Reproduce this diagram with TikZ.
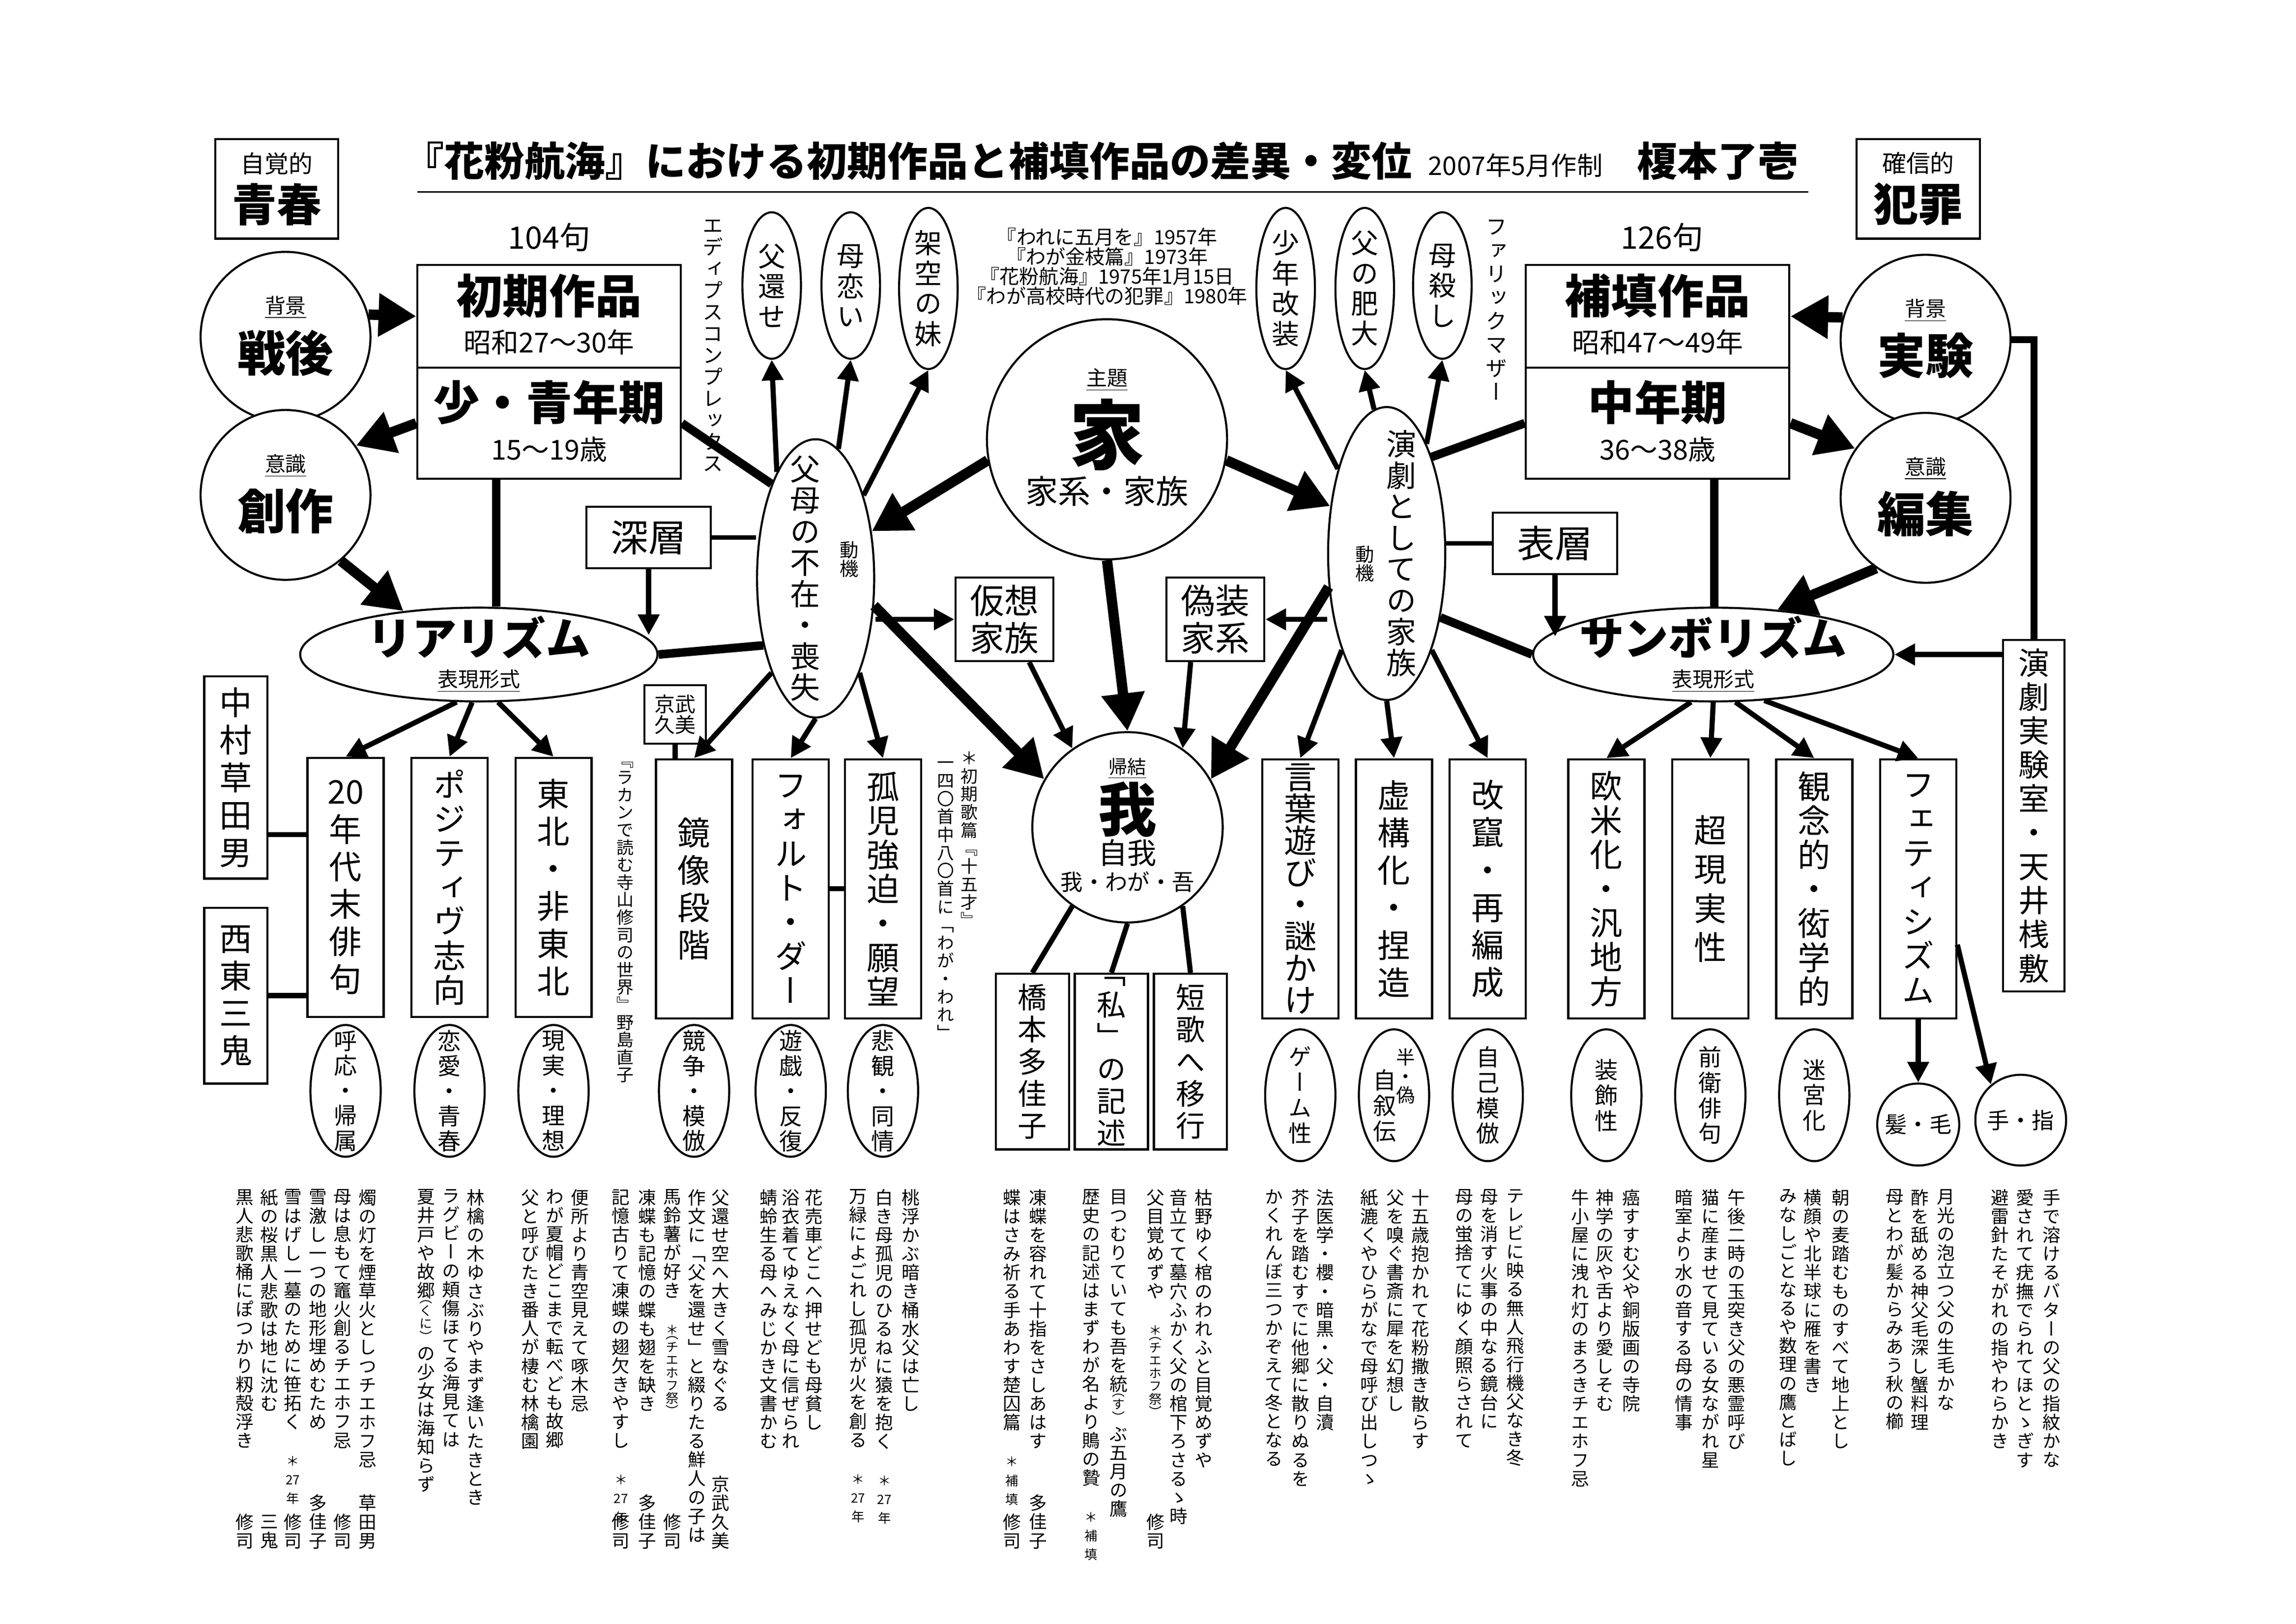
\documentclass[tikz,border=0pt]{standalone}
\usepackage{fontspec}
\setmainfont{Noto Sans CJK JP}
\newfontfamily\tf[RawFeature=+vert]{Noto Sans CJK JP}
\usetikzlibrary{shapes.geometric,arrows.meta}

\makeatletter
\def\tate@stop{\tate@end}
\def\tate@loop#1{\def\tate@tmp{#1}\ifx\tate@tmp\tate@stop\else\hbox to 1em{\hss#1\hss}\expandafter\tate@loop\fi}
\newcommand\tate[2][1.15]{\vbox{\tf\baselineskip=#1em\lineskiplimit=0pt\lineskip=1pt\tate@loop#2\tate@end}}
\makeatother
\newcommand\zbox[1]{\hbox to 0pt{\hss\vbox to 0pt{\vss\hbox{#1}\vss}\hss}}
\newcommand\sz{\fontsize{7.5}{8}\selectfont}
\newcommand\fs[1]{\fontsize{#1}{#1}\selectfont}

\begin{document}
\begin{tikzpicture}[x=0.03cm,y=-0.03cm,
  box/.style={draw,line width=1.2pt,fill=white,inner sep=0pt,align=center},
  tbox/.style={box,minimum width=1.56cm,minimum height=5.31cm,font=\fs{19}},
  oval/.style={ellipse,draw,line width=1.2pt,fill=white,inner sep=0pt,minimum width=1.44cm,minimum height=2.7cm,font=\fs{13.5}},
  topoval/.style={oval,minimum width=1.2cm,minimum height=3.0cm,font=\fs{16}},
  circ/.style={circle,draw,line width=1.2pt,fill=white,inner sep=0pt,minimum size=3.48cm},
  ku/.style={inner sep=0pt,font=\fs{10.5}},
  heavy/.style={line width=6pt,-{Triangle[length=22pt,width=24pt]}},
  mid/.style={line width=3pt,-{Triangle[length=12pt,width=12pt]}},
  bar/.style={line width=5pt},
  lbar/.style={line width=2.5pt}]
\useasboundingbox (0,0) rectangle (1568,1109);

% title
\node[font=\fs{23.5}\bfseries] (title) at (620,110) {『花粉航海』における初期作品と補填作品の差異・変位};
\node[font=\fs{15}] (date) at (1035,113) {2007年5月作制};
\node[font=\fs{23.5}\bfseries] (name) at (1173,110) {榎本了壱};
\draw[line width=1pt] (285,131) -- (1235,131);

\node[box,minimum width=2.52cm,minimum height=2.04cm] (seishun) at (189,129) {{\fs{14}自覚的}\\[4pt]{\fs{26}\bfseries 青春}};
\node[box,minimum width=2.52cm,minimum height=2.04cm] (hanzai) at (1310,129) {{\fs{14}確信的}\\[4pt]{\fs{26}\bfseries 犯罪}};
\node[font=\fs{18}] (ku104) at (375,162) {104句};
\node[font=\fs{18}] (ku126) at (1135,162) {126句};

% boxes
\node[box,minimum width=5.4cm,minimum height=2.1cm] (shoki) at (375,216) {\zbox{\begin{tabular}{@{}c@{}}{\fs{27}\bfseries 初期作品}\\[6pt]{\fs{16}昭和27〜30年}\end{tabular}}};
\node[box,minimum width=5.4cm,minimum height=2.28cm] (shonen) at (375,289) {\zbox{\begin{tabular}{@{}c@{}}{\fs{27}\bfseries 少・青年期}\\[6pt]{\fs{16}15〜19歳}\end{tabular}}};
\node[box,minimum width=5.4cm,minimum height=2.1cm] (hoten) at (1132,216) {\zbox{\begin{tabular}{@{}c@{}}{\fs{27}\bfseries 補填作品}\\[6pt]{\fs{16}昭和47〜49年}\end{tabular}}};
\node[box,minimum width=5.4cm,minimum height=2.28cm] (chunen) at (1132,289) {\zbox{\begin{tabular}{@{}c@{}}{\fs{27}\bfseries 中年期}\\[6pt]{\fs{16}36〜38歳}\end{tabular}}};

% circles
\node[circ] (sengo) at (195,230) {\zbox{\begin{tabular}{@{}c@{}}{\fs{12}\underline{背景}}\\[6pt]{\fs{28}\bfseries 戦後}\end{tabular}}};
\node[circ] (sosaku) at (195,338) {\zbox{\begin{tabular}{@{}c@{}}{\fs{12}\underline{意識}}\\[6pt]{\fs{28}\bfseries 創作}\end{tabular}}};
\node[circ] (jikken) at (1315,232) {\zbox{\begin{tabular}{@{}c@{}}{\fs{12}\underline{背景}}\\[6pt]{\fs{28}\bfseries 実験}\end{tabular}}};
\node[circ] (henshu) at (1315,340) {\zbox{\begin{tabular}{@{}c@{}}{\fs{12}\underline{意識}}\\[6pt]{\fs{28}\bfseries 編集}\end{tabular}}};

\node[ellipse,draw,line width=1.2pt,fill=white,inner sep=0pt,minimum width=7.32cm,minimum height=1.92cm] (rea) at (327,447) {\zbox{\begin{tabular}{@{}c@{}}{\fs{26}\bfseries リアリズム}\\[5pt]{\fs{12}\underline{表現形式}}\end{tabular}}};
\node[ellipse,draw,line width=1.2pt,fill=white,inner sep=0pt,minimum width=7.38cm,minimum height=1.92cm] (sun) at (1170,447) {\zbox{\begin{tabular}{@{}c@{}}{\fs{26}\bfseries サンボリズム}\\[5pt]{\fs{12}\underline{表現形式}}\end{tabular}}};

\node[ellipse,draw,line width=1.2pt,fill=white,inner sep=0pt,minimum width=2.4cm,minimum height=5.7cm,font=\fs{17.5}] (fubo) at (557,395) {\zbox{\tate[1.04]{父母の不在・喪失}\hspace{12pt}}};
\node[ellipse,draw,line width=1.2pt,fill=white,inner sep=0pt,minimum width=2.4cm,minimum height=6.0cm,font=\fs{17.5}] (engeki) at (947,378) {\zbox{\hspace{17pt}\tate[1.04]{演劇としての家族}}};
\node[font=\fs{11}] (doki1) at (580,382) {\tate[1]{動機}};
\node[font=\fs{11}] (doki2) at (932,385) {\tate[1]{動機}};

\node[circ,minimum size=4.92cm] (ie) at (756,300) {\zbox{\begin{tabular}{@{}c@{}}{\fs{12}\underline{主題}}\\[4pt]{\fs{44}\bfseries 家}\\[4pt]{\fs{19}家系・家族}\end{tabular}}};
\node[circ,minimum size=3.9cm] (ware) at (770,565) {\zbox{\begin{tabular}{@{}c@{}}{\fs{11}\underline{帰結}}\\[1pt]{\fs{34}\bfseries 我}\\[1pt]{\fs{17}自我}\\[1pt]{\fs{13}我・わが・吾}\end{tabular}}};

% ovals above
\node[topoval] (kaese) at (527,195) {\zbox{\tate[1.1]{父還せ}}};
\node[topoval] (hahakoi) at (581,195) {\zbox{\tate[1.1]{母恋い}}};
\node[topoval,minimum height=3.3cm] (kakuu) at (634,197) {\zbox{\tate[1.1]{架空の妹}}};
\node[topoval,minimum height=3.3cm] (kaiso) at (878,197) {\zbox{\tate[1.1]{少年改装}}};
\node[topoval,minimum height=3.3cm] (hidai) at (932,197) {\zbox{\tate[1.1]{父の肥大}}};
\node[topoval] (hahagoroshi) at (985,195) {\zbox{\tate[1.1]{母殺し}}};
\node[font=\fs{12},anchor=north,inner sep=0pt] (edipus) at (487,150) {\tate[1.05]{エディプスコンプレックス}};
\node[font=\fs{12.5},anchor=north,inner sep=0pt] (farikku) at (1022,150) {\tate[1.1]{ファリックマザー}};
\node[font=\fs{11.5},align=center] (nenpyo) at (756,182) {『われに五月を』1957年\\『わが金枝篇』1973年\\『花粉航海』1975年1月15日\\『わが高校時代の犯罪』1980年};

\node[box,minimum width=2.55cm,minimum height=1.26cm,font=\fs{22}] (shinso) at (443,367) {深層};
\node[box,minimum width=2.55cm,minimum height=1.26cm,font=\fs{22}] (hyoso) at (1062,371) {表層};
\node[box,minimum width=2.01cm,minimum height=1.71cm,font=\fs{20}] (kaso) at (686,423) {仮想\\[2pt]家族};
\node[box,minimum width=2.01cm,minimum height=1.71cm,font=\fs{20}] (gisou) at (830,423) {偽装\\[2pt]家系};

% rows
\node[tbox] (n20) at (236,606) {\zbox{\tate{{20}年代末俳句}}};
\node[tbox] (posi) at (307,606) {\zbox{\tate[1.05]{ポジティヴ志向}}};
\node[tbox] (tohoku) at (378,606) {\zbox{\tate{東北・非東北}}};
\node[tbox] (kyozo) at (474,607) {\zbox{\tate{鏡像段階}}};
\node[tbox] (fort) at (540,607) {\zbox{\tate[1.05]{フォルト・ダー}}};
\node[tbox] (koji) at (603,607) {\zbox{\tate[1.05]{孤児強迫・願望}}};
\node[tbox] (kotoba) at (888,607) {\zbox{\tate[0.98]{言葉遊び・謎かけ}}};
\node[tbox] (kyoko) at (952,607) {\zbox{\tate{虚構化・捏造}}};
\node[tbox] (kaizan) at (1016,607) {\zbox{\tate{改竄・再編成}}};
\node[tbox] (oubei) at (1097,607) {\zbox{\tate[1.05]{欧米化・汎地方}}};
\node[tbox] (chogen) at (1168,607) {\zbox{\tate[1.2]{超現実性}}};
\node[tbox] (kannen) at (1239,607) {\zbox{\tate[1.05]{観念的・衒学的}}};
\node[tbox] (feti) at (1310,607) {\zbox{\tate[1.05]{フェティシズム}}};

\node[oval] (koo) at (236,745) {\zbox{\tate[1.08]{呼応・帰属}}};
\node[oval] (renai) at (307,745) {\zbox{\tate[1.08]{恋愛・青春}}};
\node[oval] (genjitsu) at (378,745) {\zbox{\tate[1.08]{現実・理想}}};
\node[oval] (kyoso) at (474,745) {\zbox{\tate[1.08]{競争・模倣}}};
\node[oval] (yugi) at (540,745) {\zbox{\tate[1.08]{遊戯・反復}}};
\node[oval] (hikan) at (603,745) {\zbox{\tate[1.08]{悲観・同情}}};
\node[oval] (game) at (888,748) {\zbox{\tate[1.1]{ゲーム性}}};
\node[oval] (jijoden) at (952,748) {\zbox{\tate[1.1]{自叙伝}\raisebox{22pt}{\fs{11}\tate[1]{半・偽}}}};
\node[oval] (jiko) at (1016,748) {\zbox{\tate[1.1]{自己模倣}}};
\node[oval] (soshoku) at (1097,748) {\zbox{\tate[1.1]{装飾性}}};
\node[oval] (zenei) at (1168,748) {\zbox{\tate[1.1]{前衛俳句}}};
\node[oval] (meikyu) at (1239,748) {\zbox{\tate[1.1]{迷宮化}}};
\node[circ,minimum size=1.68cm,font=\fs{13}] (kami) at (1310,768) {髪・毛};
\node[circ,minimum size=1.86cm,font=\fs{13}] (te) at (1380,765) {手・指};

\node[box,minimum width=1.29cm,minimum height=4.14cm,font=\fs{19}] (nakamura) at (161,531) {\zbox{\tate{中村草田男}}};
\node[box,minimum width=1.29cm,minimum height=3.6cm,font=\fs{19}] (saito) at (161,680) {\zbox{\tate{西東三鬼}}};
\node[box,minimum width=1.26cm,minimum height=1.2cm,font=\fs{12}] (kyobu) at (461,488) {京武\\久美};
\node[font=\fs{10},anchor=north,inner sep=0pt] (lacan) at (427,520) {\tate[1.02]{『ラカンで読む寺山修司の世界』野島直子}};
\node[font=\fs{10},anchor=north,inner sep=0pt] (jugosai) at (662,513) {\tate[1.05]{＊初期歌篇『十五才』}};
\node[font=\fs{10},anchor=north,inner sep=0pt] (ichiyon) at (646,520) {\tate[1.05]{一四〇首中八〇首に「わが・われ」}};
\node[box,minimum width=1.5cm,minimum height=3.6cm,font=\fs{17}] (hashi) at (705,725) {\zbox{\tate[1.1]{橋本多佳子}}};
\node[box,minimum width=1.5cm,minimum height=3.6cm,font=\fs{17}] (watashi) at (759,725) {\zbox{\tate[1.1]{「私」の記述}}};
\node[box,minimum width=1.5cm,minimum height=3.6cm,font=\fs{17}] (tanka) at (813,725) {\zbox{\tate[1.1]{短歌へ移行}}};
\node[box,minimum width=1.26cm,minimum height=7.2cm,font=\fs{18}] (tenjo) at (1389,557) {\zbox{\tate[1.1]{演劇実験室・天井桟敷}}};

% connectors
\draw[heavy] (sengo.15) -- (shoki.west);
\draw[heavy] (shonen.west) -- (sosaku.35);
\draw[heavy] (sosaku.-50) -- (rea.150);
\draw[heavy] (jikken.165) -- (hoten.east);
\draw[heavy] (chunen.east) -- (henshu.145);
\draw[heavy] (henshu.-125) -- (sun.35);
\draw[heavy] (ie.190) -- (fubo.40);
\draw[heavy] (ie.-10) -- (engeki.140);
\draw[heavy] (ie.south) -- (ware.north);
\draw[heavy] (fubo.-25) -- (ware.150);
\draw[heavy] (engeki.-150) -- (ware.30);
\draw[bar] (shonen.227) -- (shonen.227 |- rea.north);
\draw[bar] (chunen.315) -- (chunen.315 |- sun.north);
\draw[bar] (rea.east) -- (fubo.232);
\draw[bar] (sun.west) -- (engeki.-50);
\draw[bar] (shonen.east) -- (fubo.115);
\draw[bar] (chunen.west) -- (engeki.65);
\draw[line width=4pt] (jikken.east) -| (tenjo.north);
\draw[lbar] (shinso.east) -- (shinso.east -| fubo.west);
\draw[lbar] (hyoso.west) -- (hyoso.west -| engeki.east);
\draw[mid] (shinso.south) -- ++(0,45);
\draw[mid] (hyoso.south) -- ++(0,42);
\draw[mid] (tenjo.west |- sun.east) -- (sun.east);
\draw[mid] (kaso.west -| fubo.east) -- (kaso.west);
\draw[mid] (gisou.east -| engeki.west) -- (gisou.east);
\draw[mid] (kaso.-60) -- (ware.125);
\draw[mid] (gisou.-120) -- (ware.55);
\draw[mid] (fubo.110) -- (kaese.south);
\draw[mid] (fubo.80) -- (hahakoi.south);
\draw[mid] (fubo.60) -- (kakuu.south);
\draw[mid] (engeki.120) -- (kaiso.south);
\draw[mid] (engeki.95) -- (hidai.south);
\draw[mid] (engeki.70) -- (hahagoroshi.south);
\draw[mid] (rea.245) -- (n20.north);
\draw[mid] (rea.262) -- (posi.north);
\draw[mid] (rea.292) -- (tohoku.north);
\draw[mid] (fubo.245) -- (kyozo.north);
\draw[mid] (fubo.south) -- (fort.north);
\draw[mid] (fubo.295) -- (koji.north);
\draw[mid] (engeki.245) -- (kotoba.north);
\draw[mid] (engeki.south) -- (kyoko.north);
\draw[mid] (engeki.295) -- (kaizan.north);
\draw[mid] (sun.245) -- (oubei.north);
\draw[mid] (sun.270) -- (chogen.north);
\draw[mid] (sun.295) -- (kannen.north);
\draw[mid] (sun.318) -- (feti.north);
\draw[mid] (feti.south) -- (kami.north);
\draw[mid] (feti.-55) -- (te.130);
\draw[line width=3pt] (ware.235) -- (hashi.north);
\draw[line width=3pt] (ware.south) -- (watashi.north);
\draw[line width=3pt] (ware.305) -- (tanka.north);
\draw[line width=3pt] (nakamura.east |- n20.west) ++(0,-36) coordinate (nk) -- (nk -| n20.west);
\draw[line width=3pt] (saito.east) -- (saito.east -| n20.west);
\draw[line width=3pt] (kyobu.south) -- (kyobu.south |- kyozo.north);
\draw[line width=3pt] (fort.east) -- (koji.west);

% haiku
\node[ku,anchor=north] (k1) at (251,812) {\tate[1.04]{燭の灯を煙草火としつチエホフ忌}};
\node[ku,anchor=north] (k2) at (234,812) {\tate[1.04]{母は息もて竈火創るチエホフ忌}};
\node[ku,anchor=north] (k3) at (217,812) {\tate[1.04]{雪激し一つの地形埋めむため}};
\node[ku,anchor=north] (k4) at (200,812) {\tate[1.04]{雪はげし一墓のために笹拓く　{\sz ＊}{\sz 27}{\sz 年}}};
\node[ku,anchor=north] (k5) at (184,812) {\tate[1.04]{紙の桜黒人悲歌は地に沈む}};
\node[ku,anchor=north] (k6) at (167,812) {\tate[1.04]{黒人悲歌桶にぽつかり籾殻浮き}};
\node[ku,anchor=north] (k7) at (325,812) {\tate[1.04]{林檎の木ゆさぶりやまず逢いたきとき}};
\node[ku,anchor=north] (k8) at (308,812) {\tate[1.04]{ラグビーの頬傷ほてる海見ては}};
\node[ku,anchor=north] (k9) at (291,812) {\tate[1.04]{夏井戸や故郷{\sz\tate[1]{（くに）}}の少女は海知らず}};
\node[ku,anchor=north] (k10) at (396,812) {\tate[1.04]{便所より青空見えて啄木忌}};
\node[ku,anchor=north] (k11) at (379,812) {\tate[1.04]{わが夏帽どこまで転べども故郷}};
\node[ku,anchor=north] (k12) at (362,812) {\tate[1.04]{父と呼びたき番人が棲む林檎園}};
\node[ku,anchor=north] (k13) at (492,812) {\tate[1.04]{父還せ空へ大きく雪なぐる}};
\node[ku,anchor=north] (k14) at (476,812) {\tate[1.04]{作文に「父を還せ」と綴りたる鮮人の子は}};
\node[ku,anchor=north] (k15) at (459,812) {\tate[1.04]{馬鈴薯が好き　{\sz ＊}{\sz\tate[1]{（チエホフ祭）}}}};
\node[ku,anchor=north] (k16) at (442,812) {\tate[1.04]{凍蝶も記憶の蝶も翅を缺き}};
\node[ku,anchor=north] (k17) at (424,812) {\tate[1.04]{記憶古りて凍蝶の翅欠きやすし　{\sz ＊}{\sz 27}{\sz 年}}};
\node[ku,anchor=north] (k18) at (622,812) {\tate[1.04]{桃浮かぶ暗き桶水父は亡し}};
\node[ku,anchor=north] (k19) at (604,812) {\tate[1.04]{白き母孤児のひるねに猿を抱く　{\sz ＊}{\sz 27}{\sz 年}}};
\node[ku,anchor=north] (k20) at (586,812) {\tate[1.04]{万緑によごれし孤児が火を創る　{\sz ＊}{\sz 27}{\sz 年}}};
\node[ku,anchor=north] (k21) at (556,812) {\tate[1.04]{花売車どこへ押せども母貧し}};
\node[ku,anchor=north] (k22) at (540,812) {\tate[1.04]{浴衣着てゆえなく母に信ぜられ}};
\node[ku,anchor=north] (k23) at (525,812) {\tate[1.04]{蜻蛉生る母へみじかき文書かむ}};
\node[ku,anchor=north] (k24) at (822,812) {\tate[1.04]{枯野ゆく棺のわれふと目覚めずや}};
\node[ku,anchor=north] (k25) at (805,812) {\tate[1.04]{音立てて墓穴ふかく父の棺下ろさるゝ時}};
\node[ku,anchor=north] (k26) at (789,812) {\tate[1.04]{父目覚めずや　{\sz ＊}{\sz\tate[1]{（チエホフ祭）}}}};
\node[ku,anchor=north] (k27) at (764,812) {\tate[1.04]{目つむりていても吾を統{\sz\tate[1]{（す）}}ぶ五月の鷹}};
\node[ku,anchor=north] (k28) at (745,812) {\tate[1.04]{歴史の記述はまずわが名より鵙の贄　{\sz ＊}{\sz 補}{\sz 填}}};
\node[ku,anchor=north] (k29) at (709,812) {\tate[1.04]{凍蝶を容れて十指をさしあはす}};
\node[ku,anchor=north] (k30) at (691,812) {\tate[1.04]{蝶はさみ祈る手あわす楚囚篇　{\sz ＊}{\sz 補}{\sz 填}}};
\node[ku,anchor=north] (k31) at (905,812) {\tate[1.04]{法医学・櫻・暗黒・父・自瀆}};
\node[ku,anchor=north] (k32) at (888,812) {\tate[1.04]{芥子を踏むすでに他郷に散りぬるを}};
\node[ku,anchor=north] (k33) at (870,812) {\tate[1.04]{かくれんぼ三つかぞえて冬となる}};
\node[ku,anchor=north] (k34) at (970,812) {\tate[1.04]{十五歳抱かれて花粉撒き散らす}};
\node[ku,anchor=north] (k35) at (953,812) {\tate[1.04]{父を嗅ぐ書斎に犀を幻想し}};
\node[ku,anchor=north] (k36) at (935,812) {\tate[1.04]{紙漉くやひらがなで母呼び出しつゝ}};
\node[ku,anchor=north] (k37) at (1035,812) {\tate[1.04]{テレビに映る無人飛行機父なき冬}};
\node[ku,anchor=north] (k38) at (1017,812) {\tate[1.04]{母を消す火事の中なる鏡台に}};
\node[ku,anchor=north] (k39) at (1000,812) {\tate[1.04]{母の蛍捨てにゆく顔照らされて}};
\node[ku,anchor=north] (k40) at (1114,812) {\tate[1.04]{癌すすむ父や銅版画の寺院}};
\node[ku,anchor=north] (k41) at (1096,812) {\tate[1.04]{神学の灰や舌より愛しそむ}};
\node[ku,anchor=north] (k42) at (1079,812) {\tate[1.04]{牛小屋に洩れ灯のまろきチエホフ忌}};
\node[ku,anchor=north] (k43) at (1186,812) {\tate[1.04]{午後二時の玉突き父の悪霊呼び}};
\node[ku,anchor=north] (k44) at (1168,812) {\tate[1.04]{猫に産ませて見ている女ながれ星}};
\node[ku,anchor=north] (k45) at (1150,812) {\tate[1.04]{暗室より水の音する母の情事}};
\node[ku,anchor=north] (k46) at (1257,812) {\tate[1.04]{朝の麦踏むものすべて地上とし}};
\node[ku,anchor=north] (k47) at (1238,812) {\tate[1.04]{横顔や北半球に雁を書き}};
\node[ku,anchor=north] (k48) at (1221,812) {\tate[1.04]{みなしごとなるや数理の鷹とばし}};
\node[ku,anchor=north] (k49) at (1329,812) {\tate[1.04]{月光の泡立つ父の生毛かな}};
\node[ku,anchor=north] (k50) at (1311,812) {\tate[1.04]{酢を舐める神父毛深し蟹料理}};
\node[ku,anchor=north] (k51) at (1294,812) {\tate[1.04]{母とわが髪からみあう秋の櫛}};
\node[ku,anchor=north] (k52) at (1401,812) {\tate[1.04]{手で溶けるバターの父の指紋かな}};
\node[ku,anchor=north] (k53) at (1383,812) {\tate[1.04]{愛されて疣撫でられてほとゝぎす}};
\node[ku,anchor=north] (k54) at (1366,812) {\tate[1.04]{避雷針たそがれの指やわらかき}};
% authors
\node[ku,anchor=south] (s1) at (251,1058) {\tate[1.04]{草田男}};
\node[ku,anchor=south] (s2) at (234,1058) {\tate[1.04]{修司}};
\node[ku,anchor=south] (s3) at (217,1058) {\tate[1.04]{多佳子}};
\node[ku,anchor=south] (s4) at (200,1058) {\tate[1.04]{修司}};
\node[ku,anchor=south] (s5) at (184,1058) {\tate[1.04]{三鬼}};
\node[ku,anchor=south] (s6) at (167,1058) {\tate[1.04]{修司}};
\node[ku,anchor=south] (s7) at (492,1058) {\tate[1.04]{京武久美}};
\node[ku,anchor=south] (s8) at (459,1058) {\tate[1.04]{修司}};
\node[ku,anchor=south] (s9) at (442,1058) {\tate[1.04]{多佳子}};
\node[ku,anchor=south] (s10) at (424,1058) {\tate[1.04]{修司}};
\node[ku,anchor=south] (s11) at (789,1058) {\tate[1.04]{修司}};
\node[ku,anchor=south] (s12) at (709,1058) {\tate[1.04]{多佳子}};
\node[ku,anchor=south] (s13) at (691,1058) {\tate[1.04]{修司}};
\end{tikzpicture}
\end{document}
